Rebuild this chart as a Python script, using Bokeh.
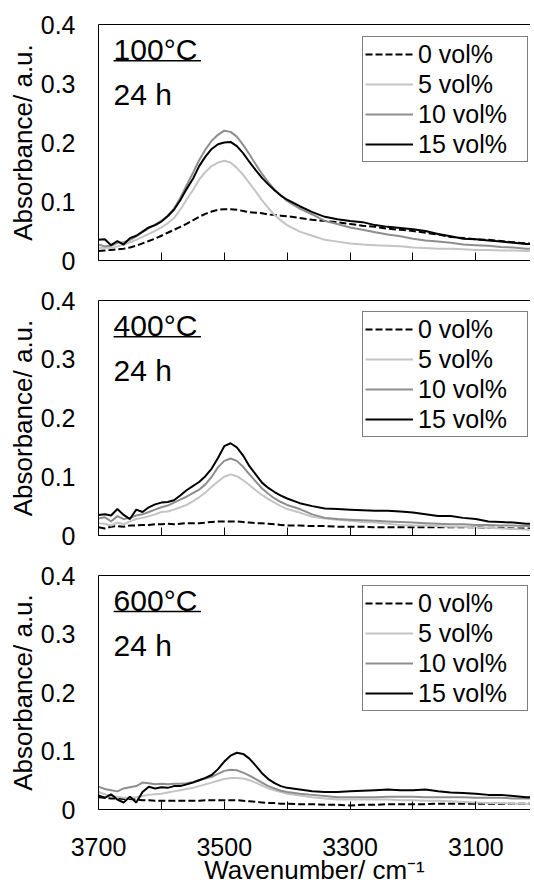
from bokeh.plotting import figure
from bokeh.layouts import column
from bokeh.models import Range1d, FixedTicker, LinearAxis, Legend, LegendItem, Label
from bokeh.embed import file_html
from bokeh.resources import INLINE

# ---------------- data ----------------
wavenumber = ([3700, 3690, 3680, 3670, 3660, 3650, 3640, 3630, 3620, 3610,
               3600, 3590, 3580, 3570, 3560, 3550, 3540, 3530, 3520, 3510,
               3500, 3490, 3480, 3470, 3460, 3450, 3440, 3430, 3420, 3410,
               3400, 3380, 3360, 3340, 3320, 3300, 3280, 3260, 3240, 3220,
               3200, 3180, 3160, 3140, 3120, 3100, 3080, 3060, 3040, 3020,
               3010])

series_labels = ["0 vol%", "5 vol%", "10 vol%", "15 vol%"]
panel_titles = ["100°C", "400°C", "600°C"]
time_label = "24 h"

a100_0 = [0.016, 0.017, 0.018, 0.019, 0.020, 0.022, 0.025, 0.029, 0.033, 0.037,
          0.042, 0.047, 0.052, 0.057, 0.062, 0.068, 0.074, 0.079, 0.083, 0.086,
          0.087, 0.087, 0.086, 0.084, 0.082, 0.081, 0.080, 0.078, 0.077, 0.076,
          0.075, 0.072, 0.069, 0.067, 0.065, 0.062, 0.059, 0.057, 0.054, 0.052,
          0.050, 0.047, 0.044, 0.040, 0.038, 0.036, 0.035, 0.033, 0.031, 0.029,
          0.029]
a100_5 = [0.021, 0.022, 0.021, 0.024, 0.027, 0.031, 0.035, 0.040, 0.045, 0.050,
          0.056, 0.063, 0.072, 0.086, 0.103, 0.119, 0.137, 0.150, 0.160, 0.166,
          0.169, 0.166, 0.157, 0.145, 0.131, 0.117, 0.102, 0.089, 0.077, 0.068,
          0.060, 0.049, 0.042, 0.035, 0.032, 0.029, 0.027, 0.026, 0.025, 0.024,
          0.022, 0.021, 0.020, 0.020, 0.019, 0.018, 0.018, 0.017, 0.017, 0.016,
          0.016]
a100_10 = [0.027, 0.024, 0.025, 0.030, 0.031, 0.035, 0.041, 0.048, 0.055, 0.061,
           0.067, 0.076, 0.088, 0.106, 0.127, 0.148, 0.170, 0.188, 0.203, 0.213,
           0.220, 0.218, 0.210, 0.196, 0.180, 0.163, 0.147, 0.133, 0.120, 0.110,
           0.101, 0.088, 0.078, 0.067, 0.062, 0.056, 0.052, 0.048, 0.044, 0.041,
           0.037, 0.034, 0.032, 0.030, 0.027, 0.026, 0.025, 0.023, 0.022, 0.020,
           0.020]
a100_15 = [0.035, 0.036, 0.026, 0.033, 0.027, 0.038, 0.042, 0.049, 0.056, 0.060,
           0.066, 0.075, 0.086, 0.102, 0.121, 0.138, 0.160, 0.176, 0.189, 0.197,
           0.200, 0.201, 0.194, 0.182, 0.167, 0.153, 0.140, 0.129, 0.119, 0.110,
           0.103, 0.092, 0.082, 0.074, 0.070, 0.067, 0.065, 0.060, 0.057, 0.055,
           0.053, 0.050, 0.045, 0.041, 0.037, 0.036, 0.034, 0.032, 0.030, 0.028,
           0.028]

a400_0 = [0.014, 0.012, 0.015, 0.016, 0.015, 0.017, 0.017, 0.018, 0.018, 0.019,
          0.019, 0.020, 0.019, 0.020, 0.021, 0.021, 0.021, 0.022, 0.023, 0.024,
          0.024, 0.024, 0.024, 0.023, 0.022, 0.021, 0.021, 0.020, 0.019, 0.018,
          0.017, 0.017, 0.016, 0.016, 0.015, 0.015, 0.015, 0.014, 0.014, 0.014,
          0.014, 0.014, 0.014, 0.014, 0.014, 0.014, 0.013, 0.013, 0.012, 0.012,
          0.012]
a400_5 = [0.021, 0.020, 0.017, 0.022, 0.019, 0.024, 0.028, 0.030, 0.033, 0.036,
          0.040, 0.041, 0.044, 0.048, 0.052, 0.058, 0.065, 0.073, 0.083, 0.092,
          0.100, 0.104, 0.101, 0.094, 0.086, 0.077, 0.069, 0.062, 0.056, 0.050,
          0.045, 0.039, 0.032, 0.029, 0.027, 0.025, 0.023, 0.022, 0.020, 0.018,
          0.017, 0.017, 0.016, 0.015, 0.015, 0.014, 0.013, 0.012, 0.011, 0.010,
          0.010]
a400_10 = [0.029, 0.031, 0.024, 0.033, 0.028, 0.030, 0.034, 0.036, 0.040, 0.044,
           0.048, 0.051, 0.056, 0.061, 0.066, 0.072, 0.078, 0.087, 0.100, 0.116,
           0.127, 0.131, 0.127, 0.117, 0.104, 0.092, 0.080, 0.071, 0.063, 0.057,
           0.052, 0.045, 0.036, 0.030, 0.028, 0.027, 0.026, 0.025, 0.024, 0.023,
           0.022, 0.021, 0.020, 0.019, 0.019, 0.018, 0.018, 0.017, 0.017, 0.016,
           0.016]
a400_15 = [0.035, 0.036, 0.034, 0.045, 0.035, 0.028, 0.044, 0.040, 0.048, 0.053,
           0.056, 0.057, 0.060, 0.068, 0.077, 0.084, 0.091, 0.101, 0.114, 0.132,
           0.152, 0.157, 0.150, 0.136, 0.118, 0.104, 0.090, 0.081, 0.074, 0.068,
           0.063, 0.055, 0.050, 0.046, 0.045, 0.044, 0.043, 0.042, 0.042, 0.041,
           0.039, 0.036, 0.033, 0.033, 0.030, 0.028, 0.024, 0.023, 0.022, 0.020,
           0.020]

a600_0 = [0.021, 0.020, 0.019, 0.019, 0.018, 0.018, 0.017, 0.016, 0.016, 0.015,
          0.015, 0.015, 0.015, 0.015, 0.015, 0.015, 0.015, 0.016, 0.016, 0.016,
          0.016, 0.016, 0.016, 0.015, 0.014, 0.013, 0.012, 0.011, 0.011, 0.010,
          0.010, 0.009, 0.009, 0.008, 0.008, 0.007, 0.008, 0.008, 0.009, 0.009,
          0.009, 0.009, 0.010, 0.010, 0.010, 0.010, 0.010, 0.010, 0.010, 0.010,
          0.010]
a600_5 = [0.030, 0.026, 0.023, 0.022, 0.020, 0.020, 0.021, 0.023, 0.025, 0.026,
          0.027, 0.029, 0.031, 0.033, 0.035, 0.037, 0.040, 0.043, 0.046, 0.049,
          0.052, 0.054, 0.054, 0.053, 0.050, 0.046, 0.041, 0.036, 0.033, 0.030,
          0.027, 0.024, 0.021, 0.019, 0.017, 0.017, 0.017, 0.017, 0.017, 0.016,
          0.016, 0.015, 0.015, 0.014, 0.013, 0.012, 0.011, 0.011, 0.010, 0.010,
          0.010]
a600_10 = [0.039, 0.035, 0.033, 0.031, 0.036, 0.038, 0.040, 0.046, 0.045, 0.043,
           0.044, 0.043, 0.044, 0.044, 0.045, 0.047, 0.050, 0.053, 0.056, 0.061,
           0.066, 0.068, 0.067, 0.063, 0.058, 0.052, 0.046, 0.040, 0.036, 0.032,
           0.030, 0.027, 0.025, 0.023, 0.021, 0.021, 0.021, 0.021, 0.022, 0.022,
           0.022, 0.021, 0.021, 0.021, 0.021, 0.020, 0.020, 0.020, 0.019, 0.019,
           0.019]
a600_15 = [0.024, 0.020, 0.026, 0.017, 0.012, 0.022, 0.012, 0.030, 0.039, 0.036,
           0.038, 0.037, 0.040, 0.040, 0.043, 0.046, 0.050, 0.054, 0.059, 0.069,
           0.082, 0.092, 0.097, 0.095, 0.087, 0.075, 0.062, 0.052, 0.045, 0.040,
           0.037, 0.034, 0.031, 0.030, 0.030, 0.031, 0.032, 0.033, 0.034, 0.033,
           0.033, 0.034, 0.031, 0.029, 0.028, 0.027, 0.025, 0.025, 0.023, 0.021,
           0.021]

y_ticks = [0, 0.1, 0.2, 0.3, 0.4]
y_tick_labels = ["0", "0.1", "0.2", "0.3", "0.4"]
x_tick_marks = [3700, 3600, 3500, 3400, 3300, 3200, 3100, 3000]
x_labeled_ticks = [3700, 3500, 3300, 3100]
x_tick_labels = ["3700", "3500", "3300", "3100"]

# ---------------- styling ----------------
FONT = "Liberation Sans"
colors = ["black", "#c4c4c4", "#8e8e8e", "black"]
dashes = ["7 3", "solid", "solid", "solid"]

X_START, X_END = 3700, 3013


def make_panel(series, title, height, top, bottom, show_x):
    p = figure(width=530, height=height,
               x_range=Range1d(X_START, X_END), y_range=Range1d(0, 0.4),
               output_backend="svg", toolbar_location=None,
               min_border_left=98, min_border_right=0,
               min_border_top=top, min_border_bottom=bottom)
    p.outline_line_color = None
    p.grid.grid_line_color = None
    p.background_fill_color = "white"
    p.border_fill_color = "white"

    # y axis
    yax = p.yaxis[0]
    yax.ticker = FixedTicker(ticks=y_ticks)
    yax.major_label_overrides = dict(zip(y_ticks, y_tick_labels))
    yax.major_tick_in = 0
    yax.major_tick_out = 0
    yax.minor_tick_line_color = None
    yax.major_label_standoff = 23
    yax.major_label_text_font = FONT
    yax.major_label_text_font_size = "25px"
    yax.major_label_text_color = "black"
    yax.axis_line_color = "black"
    yax.axis_label = "Absorbance/ a.u."
    yax.axis_label_text_font = FONT
    yax.axis_label_text_font_size = "26px"
    yax.axis_label_text_font_style = "normal"
    yax.axis_label_text_color = "black"
    yax.axis_label_standoff = 0

    # x axis: tick marks every 100 (unlabelled ones drawn as minor ticks)
    xax = p.xaxis[0]
    xax.major_tick_in = 8
    xax.major_tick_out = 0
    xax.minor_tick_in = 8
    xax.minor_tick_out = 0
    xax.major_tick_line_color = "black"
    xax.minor_tick_line_color = "black"
    xax.axis_line_color = "black"
    if show_x:
        xax.ticker = FixedTicker(ticks=x_labeled_ticks,
                                 minor_ticks=[t for t in x_tick_marks if t not in x_labeled_ticks])
        xax.major_label_overrides = dict(zip(x_labeled_ticks, x_tick_labels))
        xax.major_label_text_font = FONT
        xax.major_label_text_font_size = "25px"
        xax.major_label_text_color = "black"
        xax.major_label_standoff = 28
        xax.axis_label = "Wavenumber/ cm\u207b\u00b9"
        xax.axis_label_text_font = FONT
        xax.axis_label_text_font_size = "26px"
        xax.axis_label_text_font_style = "normal"
        xax.axis_label_text_color = "black"
        xax.axis_label_standoff = -4
    else:
        xax.ticker = FixedTicker(ticks=[], minor_ticks=x_tick_marks)
        xax.major_label_standoff = 0

    # top frame line
    top_ax = LinearAxis(ticker=FixedTicker(ticks=[]), major_label_standoff=0,
                        major_tick_line_color=None, minor_tick_line_color=None,
                        axis_line_color="black")
    p.add_layout(top_ax, "above")

    renderers = []
    for ys, c, d in zip(series, colors, dashes):
        r = p.line(wavenumber, ys, line_color=c, line_width=2, line_dash=d)
        renderers.append(r)

    legend = Legend(items=[LegendItem(label=lab, renderers=[r])
                           for lab, r in zip(series_labels, renderers)],
                    location=(264, 98), padding=2, spacing=0, margin=0,
                    glyph_width=48, glyph_height=30,
                    label_height=30, label_width=107, label_standoff=5,
                    label_text_font=FONT, label_text_font_size="25px",
                    label_text_color="black",
                    border_line_color="black", border_line_width=1,
                    background_fill_color="white", background_fill_alpha=1)
    p.add_layout(legend)

    p.add_layout(Label(x=3676, y=0.357, text=title, text_font=FONT,
                       text_font_size="30px", text_color="black",
                       text_baseline="alphabetic"))
    p.add_layout(Label(x=3676, y=0.281, text=time_label, text_font=FONT,
                       text_font_size="30px", text_color="black",
                       text_baseline="alphabetic"))
    p.segment(x0=[3676], y0=[0.3385], x1=[3537], y1=[0.3385],
              line_color="black", line_width=1.5)
    return p


p1 = make_panel([a100_0, a100_5, a100_10, a100_15], panel_titles[0], 280, 24, 20, False)
p2 = make_panel([a400_0, a400_5, a400_10, a400_15], panel_titles[1], 275, 20, 20, False)
p3 = make_panel([a600_0, a600_5, a600_10, a600_15], panel_titles[2], 332, 20, 76, True)

layout = column(p1, p2, p3)

with open("out.html", "w") as f:
    f.write(file_html(layout, INLINE))
